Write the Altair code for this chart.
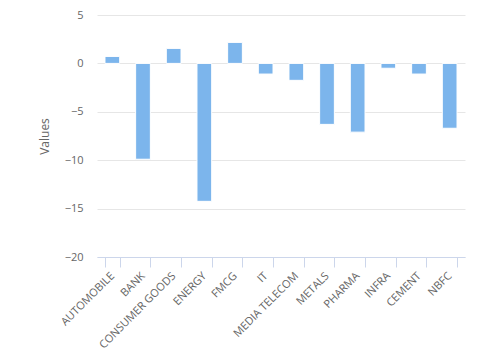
import altair as alt
import pandas as pd

categories = ["AUTOMOBILE", "BANK", "CONSUMER GOODS", "ENERGY", "FMCG", "IT",
              "MEDIA TELECOM", "METALS", "PHARMA", "INFRA", "CEMENT", "NBFC"]
values = [0.72, -9.9, 1.55, -14.25, 2.17, -1.1, -1.75, -6.3, -7.1, -0.5, -1.1, -6.7]
y_ticks = [-20, -15, -10, -5, 0, 5]

df = pd.DataFrame({"category": categories, "value": values})

FONT = "Open Sans"

chart = alt.Chart(df).mark_bar(
    color="#7cb5ec", stroke="white", strokeWidth=1
).encode(
    x=alt.X("category:N", sort=categories, title=None,
            scale=alt.Scale(paddingInner=0.52, paddingOuter=0.26),
            axis=alt.Axis(labelAngle=-45, labelAlign="right", labelBaseline="middle",
                          labelFont=FONT, labelFontSize=11, labelColor="#666666",
                          labelPadding=7, domainColor="#ccd6eb", tickColor="#ccd6eb",
                          tickSize=10, tickBand="extent", grid=False)),
    y=alt.Y("value:Q", title="Values",
            scale=alt.Scale(domain=[-20, 5], nice=False, zero=False),
            axis=alt.Axis(values=y_ticks, labelFont=FONT, labelFontSize=11,
                          labelColor="#666666", labelPadding=14, ticks=False,
                          domain=False, gridColor="#e6e6e6", titleFont=FONT,
                          titleFontSize=12, titleFontWeight="normal",
                          titleColor="#666666", titlePadding=13))
).properties(
    width=368, height=242,
    autosize=alt.AutoSizeParams(type="none"),
    padding={"left": 97, "top": 15, "right": 28, "bottom": 94}
).configure_view(stroke=None)

chart.save("out.html", embed_options={"renderer": "svg", "actions": False})
